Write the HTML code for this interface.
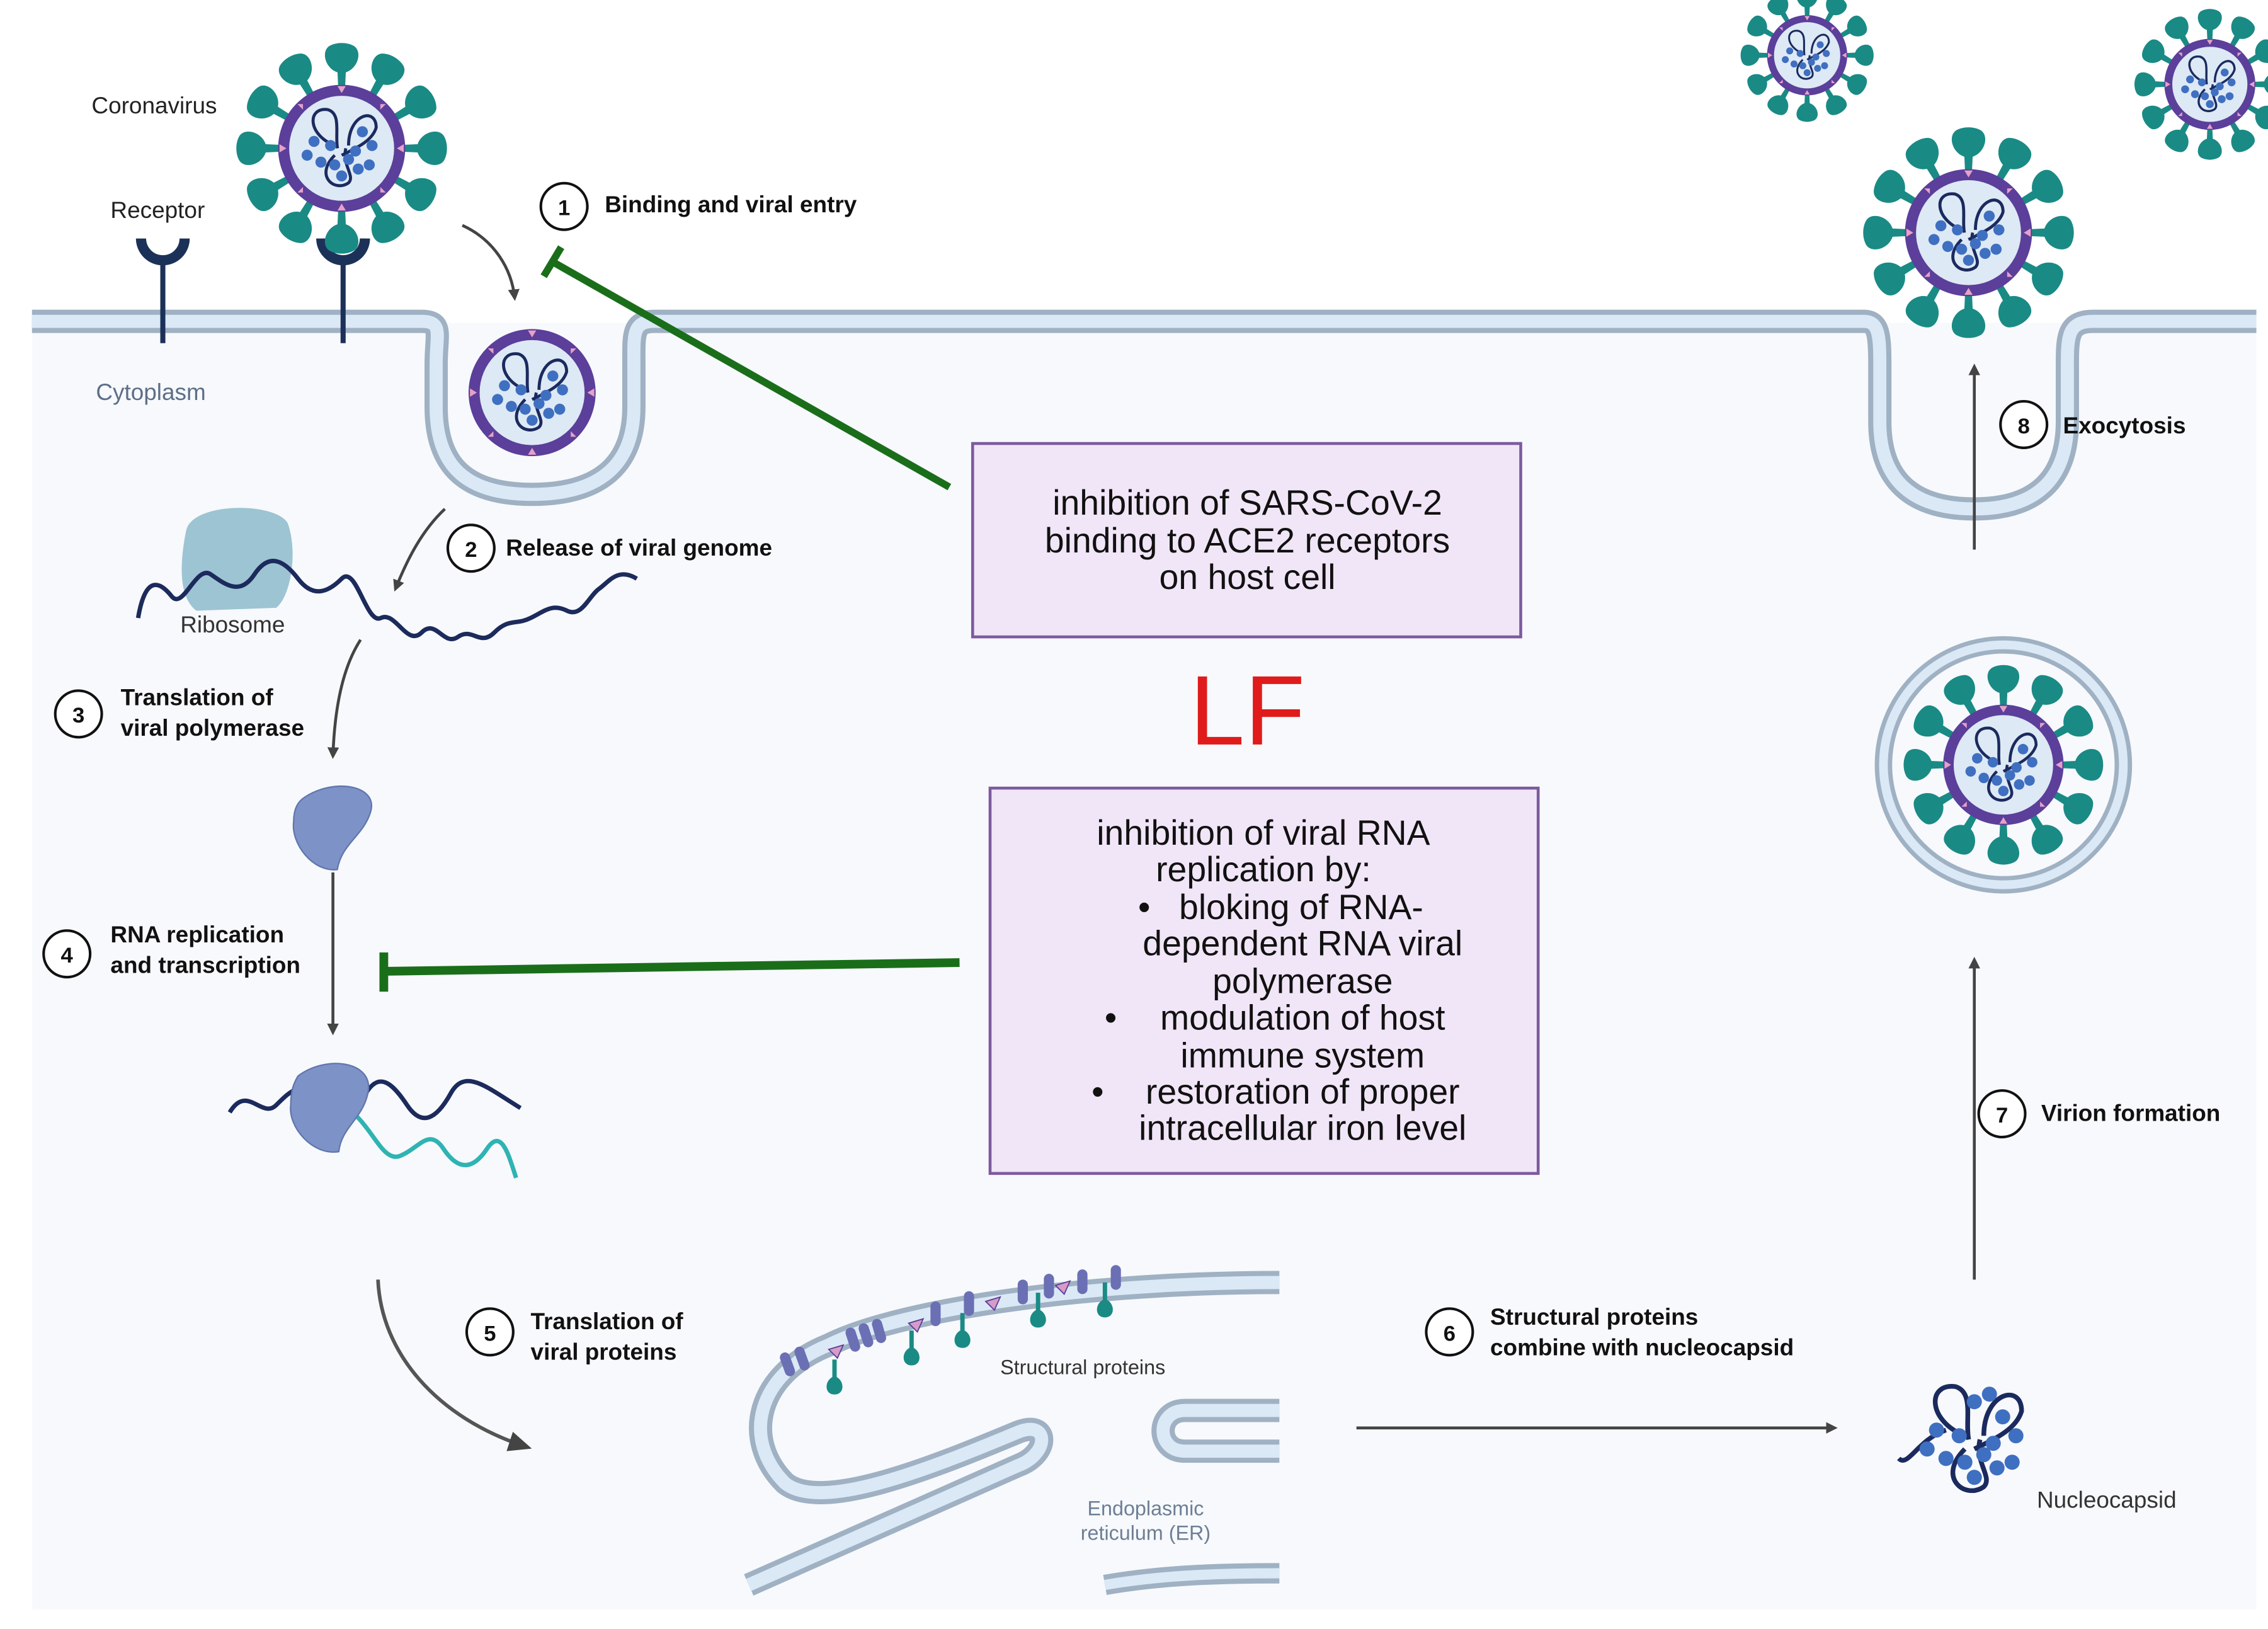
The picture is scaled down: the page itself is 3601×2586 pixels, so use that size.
<!DOCTYPE html>
<html><head><meta charset="utf-8"><style>html,body{margin:0;padding:0;background:#fff}svg{display:block}
text{font-family:"Liberation Sans",sans-serif}</style></head><body>
<svg width="3601" height="2586" viewBox="0 0 1560 1120.3" preserveAspectRatio="none" xmlns="http://www.w3.org/2000/svg">
<defs>
<g id="core">
<circle r="46" fill="#5b3f9a"/>
<circle r="38" fill="#dde9f5"/>
<g fill="#e7a0c8"><path d="M0,-45 l-3,-0 l3,5 l3,-5z"/><path d="M0,45 l-3,0 l3,-5 l3,5z"/><path d="M-45,0 l0,-3 l5,3 l-5,3z"/><path d="M45,0 l0,-3 l-5,3 l5,3z"/>
<path d="M32,-32 l-4,0 l0,4z"/><path d="M-32,32 l4,0 l0,-4z"/><path d="M-32,-32 l4,0 l0,4z"/><path d="M32,32 l-4,0 l0,-4z"/></g>
<g fill="none" stroke="#1b2a5e" stroke-width="2.2"><path d="M-5,-2 C-25,-10 -25,-30 -10,-28 C0,-25 -5,-10 -3,0"/><path d="M5,-2 C5,-25 25,-30 25,-15 C22,-5 10,0 0,5"/><path d="M-5,5 C-20,20 -5,32 5,25 C10,20 0,12 3,0"/></g>
<g fill="#3f6fc0"><circle cx="-20" cy="-5" r="4"/><circle cx="-25" cy="5" r="4"/><circle cx="-15" cy="10" r="4"/><circle cx="-8" cy="-2" r="4"/><circle cx="15" cy="-12" r="4"/><circle cx="22" cy="-2" r="4"/><circle cx="10" cy="2" r="4"/><circle cx="0" cy="20" r="4"/><circle cx="-5" cy="12" r="4"/><circle cx="12" cy="15" r="4"/><circle cx="20" cy="12" r="4"/><circle cx="5" cy="8" r="4"/></g>
</g>
<g id="spike"><path d="M-2.5,-44 L-3,-55 C-12,-58 -15,-70 -9,-74 C-4,-77 4,-77 9,-74 C15,-70 12,-58 3,-55 L2.5,-44z" fill="#1a8a85"/></g>
<g id="virus">
<use href="#spike"/><use href="#spike" transform="rotate(30)"/><use href="#spike" transform="rotate(60)"/><use href="#spike" transform="rotate(90)"/><use href="#spike" transform="rotate(120)"/><use href="#spike" transform="rotate(150)"/><use href="#spike" transform="rotate(180)"/><use href="#spike" transform="rotate(210)"/><use href="#spike" transform="rotate(240)"/><use href="#spike" transform="rotate(270)"/><use href="#spike" transform="rotate(300)"/><use href="#spike" transform="rotate(330)"/>
<use href="#core"/>
</g>
<g id="sp2"><path d="M-1.5,0 L-1.5,12 C-7,15 -7,24 0,24 C7,24 7,15 1.5,12 L1.5,0z" fill="#1a8a85"/></g>
<marker id="ah" markerWidth="8" markerHeight="8" refX="6" refY="4" orient="auto" markerUnits="userSpaceOnUse"><path d="M0,0 L8,4 L0,8z" fill="#444"/></marker>
<marker id="ahb" markerWidth="16" markerHeight="14" refX="12" refY="7" orient="auto" markerUnits="userSpaceOnUse"><path d="M0,0 L16,7 L0,14z" fill="#444"/></marker>
</defs>
<rect width="1560" height="1121" fill="#fff"/>
<rect x="22" y="222" width="1530" height="885" fill="#f7f9fc"/>
<g fill="none" stroke-linejoin="round">
<path d="M22,221 H290 C305,221 300,230 300,250 V280 C300,320 320,340 366,340 C412,340 436,320 436,280 V250 C436,230 435,221 450,221 H1282 C1292,221 1293,230 1293,250 V290 C1293,330 1315,350 1358,350 C1400,350 1422,330 1422,290 V250 C1422,230 1423,221 1440,221 H1552" stroke="#9fb1c3" stroke-width="16"/>
<path d="M22,221 H290 C305,221 300,230 300,250 V280 C300,320 320,340 366,340 C412,340 436,320 436,280 V250 C436,230 435,221 450,221 H1282 C1292,221 1293,230 1293,250 V290 C1293,330 1315,350 1358,350 C1400,350 1422,330 1422,290 V250 C1422,230 1423,221 1440,221 H1552" stroke="#dbe9f6" stroke-width="9"/>
</g>
<g stroke="#1c3158" stroke-width="3.5" fill="none"><line x1="112" y1="179" x2="112" y2="236"/><line x1="236" y1="179" x2="236" y2="236"/></g>
<g stroke="#1c3158" stroke-width="7" fill="none"><path d="M97,164 A15,15 0 0 0 127,164"/><path d="M221,164 A15,15 0 0 0 251,164"/></g>
<use href="#virus" transform="translate(235,102) scale(0.95)"/>
<use href="#core" transform="translate(366,270) scale(0.95)"/>
<use href="#virus" transform="translate(1354,160) scale(0.95)"/>
<use href="#virus" transform="translate(1243,38) scale(0.6)"/>
<use href="#virus" transform="translate(1520,58) scale(0.68)"/>
<circle cx="1378" cy="526" r="87" fill="#dbe9f6" stroke="#9fb1c3" stroke-width="3"/>
<circle cx="1378" cy="526" r="78" fill="#f7f9fc" stroke="#9fb1c3" stroke-width="3"/>
<use href="#virus" transform="translate(1378,526) scale(0.9)"/>
<text x="63" y="78" font-size="16" fill="#222">Coronavirus</text>
<text x="76" y="150" font-size="16" fill="#222">Receptor</text>
<text x="66" y="275" font-size="16" fill="#5d6f88">Cytoplasm</text>
<g fill="none" stroke="#444" stroke-width="2">
<path d="M318,155 C340,165 352,185 354,205" marker-end="url(#ah)"/>
<path d="M306,350 C290,365 280,385 272,405" marker-end="url(#ah)"/>
<path d="M248,440 C235,460 230,490 229,520" marker-end="url(#ah)"/>
<line x1="229" y1="600" x2="229" y2="710" marker-end="url(#ah)"/>
<line x1="933" y1="982" x2="1262" y2="982" marker-end="url(#ah)"/>
<line x1="1358" y1="880" x2="1358" y2="660" marker-end="url(#ah)"/>
<line x1="1358" y1="378" x2="1358" y2="252" marker-end="url(#ah)"/>
</g>
<path d="M260,880 C262,930 300,975 362,995" fill="none" stroke="#555" stroke-width="2.5" marker-end="url(#ahb)"/>
<path d="M128,365 C132,345 190,345 198,360 C205,380 200,410 190,418 L135,420 C122,410 124,385 128,365z" fill="#9dc4d3"/>
<path d="M95,425 C100,395 110,400 118,410 S135,388 145,395 S165,410 175,395 S195,385 205,398 S225,408 235,398 S252,430 262,425 S280,445 290,435 S305,445 315,438 S330,445 340,435 S355,430 365,425 S380,415 390,420 S405,410 412,405 S425,390 438,398" fill="none" stroke="#1c2a5c" stroke-width="3"/>
<text x="124" y="435" font-size="16" fill="#333">Ribosome</text>
<path d="M210,548 C230,535 260,540 255,558 C250,575 235,580 232,598 C215,600 200,580 202,565 C202,556 205,551 210,548z" fill="#7d93c8" stroke="#6176ad"/>
<path d="M158,765 C170,745 180,770 190,760 S210,740 220,760 S240,775 250,755 S270,745 280,760 S300,770 310,752 S335,748 358,762" fill="none" stroke="#1c2a5c" stroke-width="3"/>
<path d="M235,760 C255,770 262,800 275,795 S295,775 305,790 S325,805 335,790 S350,795 355,810" fill="none" stroke="#2fb3b3" stroke-width="3"/>
<path d="M205,740 C225,725 258,730 253,752 C249,770 235,775 233,792 C215,795 198,775 200,760 C200,750 202,745 205,740z" fill="#7d93c8" stroke="#6176ad"/>
<g font-size="16" font-weight="bold" fill="#111">
<g fill="#fff" stroke="#111" stroke-width="1.8"><circle cx="388" cy="142" r="16"/><circle cx="324" cy="377" r="16"/><circle cx="54" cy="491" r="16"/><circle cx="46" cy="656" r="16"/><circle cx="337" cy="916" r="16"/><circle cx="997" cy="916" r="16"/><circle cx="1377" cy="766" r="16"/><circle cx="1392" cy="292" r="16"/></g>
<g text-anchor="middle" font-size="15"><text x="388" y="148">1</text><text x="324" y="383">2</text><text x="54" y="497">3</text><text x="46" y="662">4</text><text x="337" y="922">5</text><text x="997" y="922">6</text><text x="1377" y="772">7</text><text x="1392" y="298">8</text></g>
<text x="416" y="146">Binding and viral entry</text>
<text x="348" y="382">Release of viral genome</text>
<text x="83" y="485">Translation of</text><text x="83" y="506">viral polymerase</text>
<text x="76" y="648">RNA replication</text><text x="76" y="669">and transcription</text>
<text x="365" y="914">Translation of</text><text x="365" y="935">viral proteins</text>
<text x="1025" y="911">Structural proteins</text><text x="1025" y="932">combine with nucleocapsid</text>
<text x="1404" y="771">Virion formation</text>
<text x="1419" y="298">Exocytosis</text>
</g>
<g fill="none">
<path d="M880,882 C750,882 620,900 570,925 C520,945 510,990 540,1020 C565,1040 640,1010 700,985 C722,976 722,1000 700,1008 L515,1090" stroke="#9fb1c3" stroke-width="16"/>
<path d="M880,882 C750,882 620,900 570,925 C520,945 510,990 540,1020 C565,1040 640,1010 700,985 C722,976 722,1000 700,1008 L515,1090" stroke="#dbe9f6" stroke-width="9"/>
<path d="M880,970 H815 C795,970 795,998 815,998 H880" stroke="#9fb1c3" stroke-width="16"/>
<path d="M880,970 H815 C795,970 795,998 815,998 H880" stroke="#dbe9f6" stroke-width="9"/>
<path d="M760,1090 C800,1083 840,1082 880,1082" stroke="#9fb1c3" stroke-width="14"/>
<path d="M760,1090 C800,1083 840,1082 880,1082" stroke="#dbe9f6" stroke-width="7"/>
</g>
<use href="#sp2" transform="translate(574,935)"/><use href="#sp2" transform="translate(627,915)"/><use href="#sp2" transform="translate(662,903)"/><use href="#sp2" transform="translate(714,889)"/><use href="#sp2" transform="translate(760,882)"/>
<g fill="#6b6fb3"><rect x="538" y="930" width="7" height="17" rx="3.5" transform="rotate(-20 541 938)"/><rect x="548" y="926" width="7" height="17" rx="3.5" transform="rotate(-20 551 934)"/><rect x="583" y="913" width="7" height="17" rx="3.5" transform="rotate(-18 586 921)"/><rect x="592" y="910" width="7" height="17" rx="3.5" transform="rotate(-18 595 918)"/><rect x="601" y="907" width="7" height="17" rx="3.5" transform="rotate(-16 604 915)"/><rect x="640" y="895" width="7" height="17" rx="3.5"/><rect x="663" y="888" width="7" height="17" rx="3.5"/><rect x="700" y="880" width="7" height="17" rx="3.5"/><rect x="718" y="876" width="7" height="17" rx="3.5"/><rect x="741" y="873" width="7" height="17" rx="3.5"/><rect x="764" y="870" width="7" height="17" rx="3.5"/></g>
<g fill="#d79bc8" stroke="#5b3f9a" stroke-width="0.8"><path d="M570,928 l10,-3 l-4,9z"/><path d="M625,910 l10,-3 l-4,9z"/><path d="M678,895 l10,-3 l-4,9z"/><path d="M726,884 l10,-3 l-4,9z"/></g>
<text x="688" y="945" font-size="14" fill="#333">Structural proteins</text>
<text x="788" y="1042" font-size="14" fill="#6d7f95" text-anchor="middle">Endoplasmic</text>
<text x="788" y="1059" font-size="14" fill="#6d7f95" text-anchor="middle">reticulum (ER)</text>
<g transform="translate(1358,990) scale(1.3)"><g fill="none" stroke="#1b2a5e" stroke-width="2.5"><path d="M-5,-2 C-25,-10 -25,-30 -10,-28 C0,-25 -5,-10 -3,0"/><path d="M5,-2 C5,-25 25,-30 25,-15 C22,-5 10,0 0,5"/><path d="M-5,5 C-20,20 -5,32 5,25 C10,20 0,12 3,0"/><path d="M-15,-5 C-30,0 -35,15 -40,10"/></g>
<g fill="#3f6fc0"><circle cx="-20" cy="-5" r="4"/><circle cx="-25" cy="5" r="4"/><circle cx="-15" cy="10" r="4"/><circle cx="-8" cy="-2" r="4"/><circle cx="15" cy="-12" r="4"/><circle cx="22" cy="-2" r="4"/><circle cx="10" cy="2" r="4"/><circle cx="0" cy="20" r="4"/><circle cx="-5" cy="12" r="4"/><circle cx="12" cy="15" r="4"/><circle cx="20" cy="12" r="4"/><circle cx="5" cy="8" r="4"/><circle cx="0" cy="-20" r="4"/><circle cx="8" cy="-24" r="4"/></g></g>
<text x="1401" y="1037" font-size="16" fill="#333">Nucleocapsid</text>
<line x1="653" y1="335" x2="380" y2="180" stroke="#1a6e1a" stroke-width="5"/>
<line x1="374" y1="190" x2="386" y2="170" stroke="#1a6e1a" stroke-width="5"/>
<line x1="660" y1="662" x2="264" y2="668" stroke="#1a6e1a" stroke-width="6"/>
<line x1="264" y1="655" x2="264" y2="682" stroke="#1a6e1a" stroke-width="6"/>
<rect x="669" y="305" width="377" height="133" fill="#f1e6f7" stroke="#7d5a9e" stroke-width="2"/>
<g font-size="24" fill="#111" text-anchor="middle"><text x="858" y="354">inhibition of SARS-CoV-2</text><text x="858" y="380">binding to ACE2 receptors</text><text x="858" y="405">on host cell</text></g>
<text x="858" y="512" font-size="68" fill="#e01b1b" text-anchor="middle">LF</text>
<rect x="681" y="542" width="377" height="265" fill="#f1e6f7" stroke="#7d5a9e" stroke-width="2"/>
<g font-size="24" fill="#111" text-anchor="middle"><text x="869" y="581">inhibition of viral RNA</text><text x="869" y="606">replication by:</text>
<text x="895" y="632">bloking of RNA-</text><text x="896" y="657">dependent RNA viral</text><text x="896" y="683">polymerase</text>
<text x="896" y="708">modulation of host</text><text x="896" y="734">immune system</text>
<text x="896" y="759">restoration of proper</text><text x="896" y="784">intracellular iron  level</text>
<text x="787" y="632">•</text><text x="764" y="708">•</text><text x="755" y="759">•</text></g>
</svg>
</body></html>
